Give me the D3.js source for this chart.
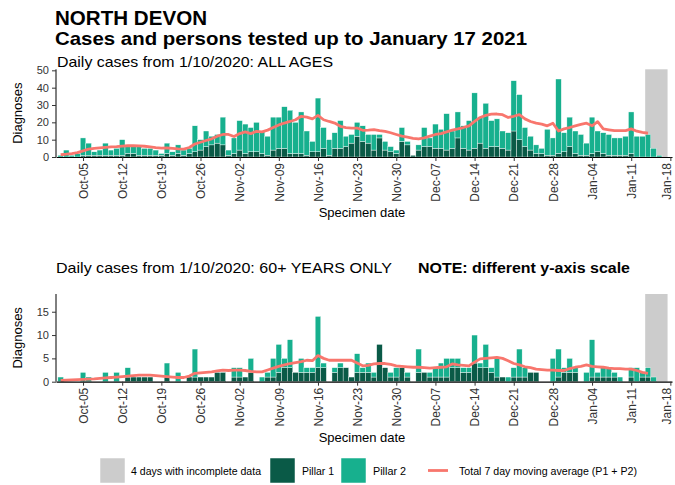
<!DOCTYPE html>
<html><head><meta charset="utf-8">
<script src="https://cdn.jsdelivr.net/npm/d3@7"></script>
<style>
body{margin:0;background:#fff}
svg{display:block}
text{font-family:"Liberation Sans", Arial, sans-serif}
</style>
</head><body><svg id="c" width="675" height="485"></svg>
<script>
// ---------------- DATA ----------------
const startDate = "2020-10-01"; // first day of the daily series
const incompleteDays = ["2021-01-14", "2021-01-17"];
const tickLabels = ["2020-10-05","2020-10-12","2020-10-19","2020-10-26","2020-11-02","2020-11-09","2020-11-16","2020-11-23","2020-11-30","2020-12-07","2020-12-14","2020-12-21","2020-12-28","2021-01-04","2021-01-11","2021-01-18"];

// ALL AGES (daily counts from 1 Oct 2020 to 17 Jan 2021)
const pillar1All = [0,0,0,0,1,1,1,1,1,1,1,1,2,2,1,1,1,1,1,2,1,2,1,2,3,4,6,7,8,7,1,2,4,2,3,3,2,1,4,5,5,2,2,2,1,3,3,5,1,5,5,6,8,12,9,8,4,11,4,3,2,9,7,1,4,6,6,5,5,4,5,11,5,4,5,8,5,6,6,5,4,15,10,6,4,2,2,1,1,2,3,6,2,1,1,2,3,2,1,1,1,1,2,0,0,0,0,0,0];
const pillar2All = [1,4,1,2,10,7,2,3,7,3,4,9,4,4,5,4,4,3,1,6,2,5,3,3,15,6,9,5,5,16,3,9,17,17,14,17,13,11,19,18,24,25,18,24,14,6,31,12,9,9,16,6,5,8,9,5,9,2,5,3,2,8,2,0,3,11,5,14,11,21,10,15,13,17,32,15,26,15,16,10,10,29,26,11,8,5,3,15,10,43,11,17,13,12,7,21,12,12,12,10,10,11,24,12,12,13,5,1,0];
const avgAll = [1.3,1.6,2,2.5,3.5,4.5,5,5.3,5.6,5.8,6,6.3,6.5,6.5,6.4,6.2,5.8,5.4,5.1,5.2,5,4.7,4.5,5.5,7.5,8.5,9.5,10.5,12,13,13,11.8,13.5,14.5,13.5,14.8,14.5,15.5,17,18.5,19.6,20.5,21.5,23.5,23,22,24,21.5,20.5,19.6,17.7,17,16.7,16.7,15.4,15.5,15.8,15.2,14.8,14,13,12,11.5,10.8,10.4,11,12,13,13.5,14.5,15.5,16.2,17,18,20.5,22.8,24,24.7,24.8,24.4,22.8,23.5,24.4,22,20.5,19.5,19,18,19.5,15,16.2,17,18,18.8,19.5,18,20.4,16.2,15.7,15.2,15.2,15.2,16.2,14.9,14.2,13.7];

// 60+ YEARS ONLY
const pillar1Old = [0,0,0,0,0,0,0,0,0,0,0,0,1,1,1,1,1,0,0,1,0,0,0,1,1,1,1,1,2,2,0,1,1,1,2,0,0,1,1,2,3,3,2,2,2,2,3,3,0,2,3,3,1,2,2,2,1,8,3,1,1,3,1,0,2,2,1,1,1,1,3,3,2,2,4,3,3,2,1,1,0,1,1,1,2,2,0,0,0,1,2,2,2,0,0,1,1,1,1,1,0,0,1,0,1,1,0,0,0];
const pillar2Old = [1,0,0,0,2,1,0,0,2,0,2,0,2,0,0,0,0,0,0,3,0,2,0,0,6,0,0,0,0,0,0,2,2,0,3,0,1,1,4,6,2,6,0,3,1,1,11,1,0,1,1,0,0,4,1,2,1,0,0,1,2,0,1,0,5,0,1,2,3,4,2,2,1,1,6,1,5,1,4,0,1,2,6,2,0,0,0,0,5,6,1,3,1,0,2,8,1,2,2,1,1,0,2,3,1,2,1,0,0];
const avgOld = [0.3,0.35,0.4,0.45,0.5,0.55,0.6,0.7,0.8,0.9,1,1.1,1.2,1.3,1.4,1.4,1.4,1.3,1.2,1.1,1,0.9,0.9,1.2,1.8,1.9,2,2.1,2.3,2.5,2.4,2.5,2.5,2.4,2.2,2.1,2.1,2.5,2.9,3.3,3.6,3.9,4.1,4.3,4.6,4.5,5.6,5,4.6,4.6,4.6,4.6,4.6,4,3.4,3.5,3.8,3.9,3.9,3.7,3.4,3.3,3.2,3.1,3.1,3,2.9,3,3.1,3.2,3.8,3.6,3.5,3.4,4.2,4.9,5,5.1,5.2,5,4.5,3.9,3.6,3.2,3,2.7,2.6,2.5,2.5,2.4,2.4,2.8,3.1,3.3,3.6,3.3,3.2,3.1,2.9,2.8,2.8,2.7,2.7,2.4,2,1.8];

const yTicksAll = [0,10,20,30,40,50];
const yTicksOld = [0,5,10,15];

const legendLabels = ["4 days with incomplete data","Pillar 1","Pillar 2","Total 7 day moving average (P1 + P2)"];

// ---------------- STYLE ----------------
const COL_P1 = "#0a5a47", COL_P2 = "#17b08e", COL_GREY = "#cccccc", COL_LINE = "#f8766d";

const svg = d3.select("#c");
const parse = d3.utcParse("%Y-%m-%d");
const start = parse(startDate);
const dayOf = i => d3.utcDay.offset(start, i);
const HALF = 12 * 3600 * 1000;

const x = d3.scaleUtc()
  .domain([new Date(Date.UTC(2020,8,30,4)), new Date(Date.UTC(2021,0,18,7))])
  .range([56, 672]);

function txt(xp, yp, s, size, opts={}){
  const t = svg.append("text").attr("x",xp).attr("y",yp).attr("font-size",size).attr("fill","#000").text(s);
  if(opts.bold) t.attr("font-weight","bold");
  if(opts.len) t.attr("textLength",opts.len).attr("lengthAdjust","spacingAndGlyphs");
  return t;
}

// Titles
txt(55, 25, "NORTH DEVON", 19.5, {bold:true, len:152});
txt(55, 45, "Cases and persons tested up to January 17 2021", 19, {bold:true, len:472});

function panel(cfg){
  const y = d3.scaleLinear().domain([0,cfg.max]).range([cfg.y0, cfg.y1]);
  const g = svg.append("g");
  const g0 = parse(incompleteDays[0]), g1 = parse(incompleteDays[1]);
  g.append("rect")
    .attr("x", x(new Date(+g0 - HALF))).attr("width", x(new Date(+g1 + HALF)) - x(new Date(+g0 - HALF)))
    .attr("y", y(cfg.max)).attr("height", y(0) - y(cfg.max))
    .attr("fill", COL_GREY);
  const rows = cfg.p1.map((v,i)=>({d:dayOf(i), p1:v, p2:cfg.p2[i]}));
  const bw = d => x(new Date(+d + HALF)) - x(new Date(+d - HALF));
  g.selectAll(".b1").data(rows.filter(r=>r.p1>0)).join("rect")
    .attr("x", r=>x(new Date(+r.d - HALF))).attr("width", r=>bw(r.d))
    .attr("y", r=>y(r.p1)).attr("height", r=>y(0)-y(r.p1))
    .attr("fill", COL_P1).attr("stroke","#fff").attr("stroke-width",0.4);
  g.selectAll(".b2").data(rows.filter(r=>r.p2>0)).join("rect")
    .attr("x", r=>x(new Date(+r.d - HALF))).attr("width", r=>bw(r.d))
    .attr("y", r=>y(r.p1+r.p2)).attr("height", r=>y(r.p1)-y(r.p1+r.p2))
    .attr("fill", COL_P2).attr("stroke","#fff").attr("stroke-width",0.4);
  g.append("path").datum(cfg.avg.map((v,i)=>[dayOf(i), v]))
    .attr("d", d3.line().x(d=>x(d[0])).y(d=>y(d[1])).curve(d3.curveLinear))
    .attr("fill","none").attr("stroke",COL_LINE).attr("stroke-width",2.8).attr("stroke-linejoin","round");
  const ya = g.append("g").attr("transform",`translate(${x.range()[0]},0)`)
    .call(d3.axisLeft(y).tickValues(cfg.ticks).tickSize(4).tickSizeOuter(0).tickPadding(3));
  ya.select(".domain").attr("stroke","#000").attr("d",`M0,${y(cfg.max)}V${y(0)}`);
  ya.selectAll(".tick line").attr("stroke","#333");
  ya.selectAll("text").attr("font-size",11).attr("fill","#333").attr("font-family","Liberation Sans, Arial, sans-serif");
  const xa = g.append("g").attr("transform",`translate(0,${y(0)})`)
    .call(d3.axisBottom(x).tickValues(tickLabels.map(parse)).tickFormat(d3.utcFormat("%b-%d")).tickSize(4).tickSizeOuter(0));
  xa.select(".domain").attr("stroke","#000").attr("stroke-width",1.2);
  xa.selectAll(".tick line").attr("stroke","#333");
  const n = tickLabels.length;
  xa.selectAll("text").attr("font-size",12).attr("fill","#333").attr("font-family","Liberation Sans, Arial, sans-serif")
    .attr("transform","rotate(-90)").attr("text-anchor","end").attr("x",-6).attr("y",0)
    .attr("dy",(d,i)=> i === n-1 ? "0.05em" : "0.35em");
  g.append("text").attr("x",362).attr("y",cfg.xTitleY).attr("text-anchor","middle").attr("font-size",13).attr("fill","#000").text("Specimen date");
  g.append("text").attr("transform",`translate(22,${(cfg.y0+cfg.y1)/2}) rotate(-90)`).attr("text-anchor","middle").attr("font-size",13).attr("fill","#000").text("Diagnoses");
}

// Top panel
txt(57, 67, "Daily cases from 1/10/2020: ALL AGES", 14.5, {len:276});
panel({p1:pillar1All, p2:pillar2All, avg:avgAll, max:50.6, ticks:yTicksAll, y0:157, y1:69.3, xTitleY:217});

// Bottom panel
txt(56, 273, "Daily cases from 1/10/2020: 60+ YEARS ONLY", 14.5, {len:336});
txt(418, 273, "NOTE: different y-axis scale", 14.5, {bold:true, len:212});
panel({p1:pillar1Old, p2:pillar2Old, avg:avgOld, max:18.8, ticks:yTicksOld, y0:381.7, y1:294, xTitleY:442});

// Legend
const lg = svg.append("g").attr("font-size",11);
const keys = [
  {type:"rect", fill:COL_GREY, kx:100, tx:131, len:130},
  {type:"rect", fill:COL_P1, kx:270, tx:302, len:32},
  {type:"rect", fill:COL_P2, kx:341, tx:373, len:33},
  {type:"line", fill:COL_LINE, kx:428, tx:459, len:178}
];
keys.forEach((k,i)=>{
  if(k.type==="rect"){
    lg.append("rect").attr("x",k.kx).attr("y",458).attr("width",25).attr("height",25).attr("fill",k.fill).attr("stroke","#fff").attr("stroke-width",0.5);
  } else {
    lg.append("line").attr("x1",k.kx).attr("x2",k.kx+20).attr("y1",470.5).attr("y2",470.5).attr("stroke",k.fill).attr("stroke-width",2.8);
  }
  lg.append("text").attr("x",k.tx).attr("y",471).attr("dy","0.35em").attr("fill","#000")
    .attr("textLength",k.len).attr("lengthAdjust","spacingAndGlyphs").text(legendLabels[i]);
});
</script>
</body></html>
